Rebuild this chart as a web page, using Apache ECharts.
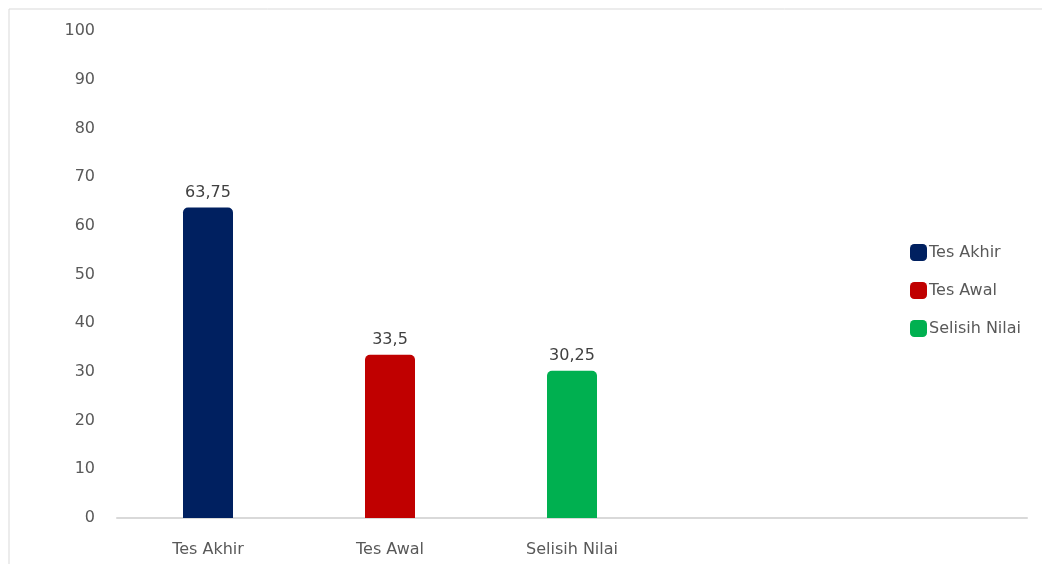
<!DOCTYPE html>
<html>
<head>
<meta charset="utf-8">
<script src="https://cdn.jsdelivr.net/npm/echarts@6/dist/echarts.min.js"></script>
<style>
  html, body { margin: 0; padding: 0; background: #fff; }
  #main { width: 1042px; height: 564px; }
</style>
</head>
<body>
<div id="main"></div>
<script>
var categories = ['Tes Akhir', 'Tes Awal', 'Selisih Nilai', '', ''];
var seriesNames = ['Tes Akhir', 'Tes Awal', 'Selisih Nilai'];
var values = [63.75, 33.5, 30.25];
var colors = ['#002060', '#C00000', '#00B050'];
var yTicks = [0, 10, 20, 30, 40, 50, 60, 70, 80, 90, 100];

var chartDom = document.getElementById('main');
var myChart = echarts.init(chartDom);

var font = 'DejaVu Sans, sans-serif';

var series = seriesNames.map(function (name, i) {
    var data = categories.map(function (c, j) { return j === i ? values[i] : '-'; });
    return {
        name: name,
        type: 'bar',
        stack: 'one',
        data: data,
        barWidth: 50,
        itemStyle: { color: colors[i], borderRadius: [5, 5, 0, 0] },
        label: {
            show: true,
            position: 'top',
            distance: 7,
            color: '#404040',
            fontSize: 16,
            fontFamily: font,
            formatter: function (p) { return String(p.value).replace('.', ','); }
        }
    };
});

var option = {
    animation: false,
    backgroundColor: '#fff',
    graphic: [{
        type: 'rect',
        shape: { x: 9, y: 9, width: 1200, height: 700 },
        style: { fill: 'none', stroke: '#d9d9d9', lineWidth: 1 },
        silent: true
    }],
    grid: { left: 117, right: 15, top: 31, bottom: 46 },
    legend: {
        orient: 'vertical',
        left: 905,
        top: 239,
        itemWidth: 17,
        itemHeight: 17,
        itemGap: 21,
        icon: 'roundRect',
        data: seriesNames,
        textStyle: { color: '#595959', fontSize: 16, fontFamily: font, padding: [0, 0, 0, -3] }
    },
    xAxis: {
        type: 'category',
        data: categories,
        axisLine: { lineStyle: { color: '#d9d9d9', width: 2 } },
        axisTick: { show: false },
        axisLabel: { color: '#595959', fontSize: 16, fontFamily: font, margin: 24 }
    },
    yAxis: {
        type: 'value',
        min: yTicks[0],
        max: yTicks[yTicks.length - 1],
        interval: 10,
        splitLine: { show: false },
        axisLine: { show: false },
        axisTick: { show: false },
        axisLabel: { color: '#595959', fontSize: 16, fontFamily: font, margin: 22 }
    },
    series: series
};

option && myChart.setOption(option);
</script>
</body>
</html>
